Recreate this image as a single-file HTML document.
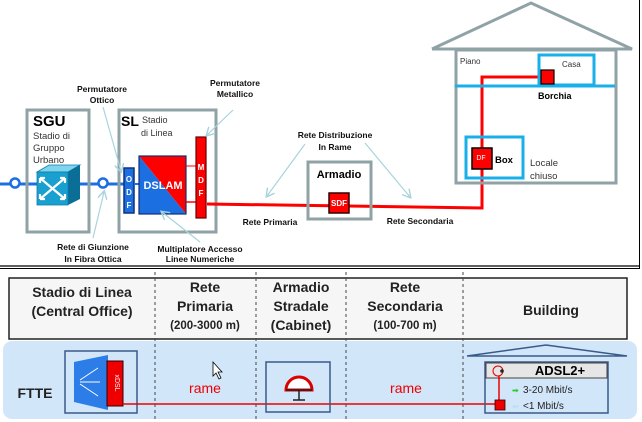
<!DOCTYPE html>
<html><head><meta charset="utf-8"><style>
body{margin:0;background:#fff}
svg{display:block;font-family:"Liberation Sans",Arial,sans-serif}
</style></head><body>
<svg width="642" height="422" viewBox="0 0 642 422" xmlns="http://www.w3.org/2000/svg">
<defs>
<marker id="ar" markerWidth="8" markerHeight="8" refX="6" refY="4" orient="auto"><path d="M0,0 L7,4 L0,8" fill="none" stroke="#a8d4dc" stroke-width="1.2"/></marker>
</defs>
<rect width="642" height="422" fill="#fff"/>
<line x1="0" y1="266" x2="640" y2="266" stroke="#000" stroke-width="1.2"/>
<line x1="0" y1="268.5" x2="640" y2="268.5" stroke="#000" stroke-width="1"/>
<line x1="639.5" y1="0" x2="639.5" y2="268" stroke="#000" stroke-width="1"/>

<line x1="0" y1="184" x2="124" y2="184" stroke="#1b6fe0" stroke-width="3"/>
<circle cx="15" cy="183" r="4.5" fill="#fff" stroke="#1b6fe0" stroke-width="2.5"/>
<circle cx="103" cy="183" r="4.5" fill="#fff" stroke="#1b6fe0" stroke-width="2.5"/>

<rect x="27" y="110" width="62" height="122" fill="none" stroke="#8fa3a6" stroke-width="3"/>
<text x="33" y="126" font-size="15" font-weight="bold">SGU</text>
<text x="33" y="139" font-size="9.5" fill="#333">Stadio di</text>
<text x="33" y="151" font-size="9.5" fill="#333">Gruppo</text>
<text x="33" y="163" font-size="9.5" fill="#333">Urbano</text>
<polygon points="37,172 49,165 80,165 68,172" fill="#7fd4ee" stroke="#0a7fa8" stroke-width="0.8"/>
<polygon points="68,172 80,165 80,199 68,205" fill="#0a6e96"/>
<rect x="37" y="172" width="31" height="33" fill="#1aa0d0" stroke="#0a7fa8" stroke-width="0.8"/>
<path d="M40,178 L65,199 M65,178 L40,199 M40,178 h5 M40,178 v5 M65,178 h-5 M65,178 v5 M40,199 h5 M40,199 v-5 M65,199 h-5 M65,199 v-5" stroke="#fff" stroke-width="2.2" fill="none"/>

<rect x="119" y="110" width="97" height="122" fill="none" stroke="#8fa3a6" stroke-width="3"/>
<text x="121" y="126" font-size="14" font-weight="bold">SL</text>
<text x="142" y="123" font-size="9" fill="#333">Stadio</text>
<text x="141" y="136" font-size="9" fill="#333">di Linea</text>
<rect x="124" y="168" width="10" height="45" fill="#1b6fe0" stroke="#10307a" stroke-width="1.5"/>
<text x="129" y="182" font-size="8" font-weight="bold" fill="#fff" text-anchor="middle">O</text>
<text x="129" y="195" font-size="8" font-weight="bold" fill="#fff" text-anchor="middle">D</text>
<text x="129" y="208" font-size="8" font-weight="bold" fill="#fff" text-anchor="middle">F</text>
<line x1="134" y1="184" x2="139" y2="184" stroke="#1b6fe0" stroke-width="2"/>
<polygon points="139,156 186,156 186,214" fill="#f00"/>
<polygon points="139,156 186,214 139,214" fill="#1b6fe0"/>
<rect x="139" y="156" width="47" height="58" fill="none" stroke="#10307a" stroke-width="1.2"/>
<text x="163" y="189" font-size="11" font-weight="bold" fill="#fff" text-anchor="middle">DSLAM</text>
<line x1="186" y1="166" x2="196" y2="166" stroke="#f00" stroke-width="1"/>
<line x1="186" y1="202" x2="196" y2="202" stroke="#f00" stroke-width="1.5"/>
<rect x="196" y="137" width="10" height="81" fill="#f00" stroke="#600" stroke-width="1.2"/>
<text x="201" y="170" font-size="8" font-weight="bold" fill="#fff" text-anchor="middle">M</text>
<text x="201" y="183" font-size="8" font-weight="bold" fill="#fff" text-anchor="middle">D</text>
<text x="201" y="196" font-size="8" font-weight="bold" fill="#fff" text-anchor="middle">F</text>

<path d="M207,204 L482,208 L482,77 L540,77" fill="none" stroke="#f00" stroke-width="3"/>

<rect x="308" y="162" width="63" height="57" fill="none" stroke="#8fa3a6" stroke-width="3"/>
<text x="339" y="178" font-size="11" font-weight="bold" text-anchor="middle">Armadio</text>
<rect x="329" y="193" width="20" height="20" fill="#f00" stroke="#300" stroke-width="1.5"/>
<text x="339" y="206" font-size="8" font-weight="bold" fill="#fff" text-anchor="middle">SDF</text>

<polyline points="432,49 531,3 632,49 432,49" fill="none" stroke="#8fa3a6" stroke-width="3"/>
<rect x="456" y="50" width="160" height="133" fill="none" stroke="#8fa3a6" stroke-width="3"/>
<line x1="455" y1="86" x2="615" y2="86" stroke="#19b0ea" stroke-width="3"/>
<rect x="539" y="55" width="55" height="30" fill="none" stroke="#19b0ea" stroke-width="3"/>
<text x="460" y="64" font-size="8" fill="#333">Piano</text>
<text x="562" y="67" font-size="8" fill="#333">Casa</text>
<rect x="541" y="70" width="13" height="14" fill="#f00" stroke="#000" stroke-width="1.2"/>
<text x="538" y="99" font-size="9" font-weight="bold">Borchia</text>
<rect x="466" y="137" width="57" height="41" fill="none" stroke="#19b0ea" stroke-width="3"/>
<rect x="472" y="148" width="20" height="21" fill="#f00" stroke="#000" stroke-width="1.5"/>
<text x="481" y="160" font-size="7" fill="#fff" text-anchor="middle">DF</text>
<text x="495" y="163" font-size="9.5" font-weight="bold">Box</text>
<text x="530" y="166" font-size="9.5" fill="#333">Locale</text>
<text x="530" y="179" font-size="9.5" fill="#333">chiuso</text>

<g font-size="8.5" font-weight="bold" fill="#111" text-anchor="middle">
<text x="102" y="92">Permutatore</text><text x="102" y="103">Ottico</text>
<text x="235" y="86">Permutatore</text><text x="235" y="97">Metallico</text>
<text x="335" y="138">Rete Distribuzione</text><text x="335" y="150">In Rame</text>
<text x="93" y="250">Rete di Giunzione</text><text x="93" y="262">In Fibra Ottica</text>
<text x="200" y="252">Multiplatore Accesso</text><text x="200" y="262">Linee Numeriche</text>
<text x="270" y="225">Rete Primaria</text>
<text x="420" y="224">Rete Secondaria</text>
</g>
<g stroke="#a8d4dc" stroke-width="1.2" fill="none" marker-end="url(#ar)">
<line x1="103" y1="107" x2="121" y2="171"/>
<line x1="233" y1="110" x2="207" y2="135"/>
<line x1="305" y1="144" x2="267" y2="196"/>
<line x1="365" y1="143" x2="410" y2="197"/>
<line x1="93" y1="238" x2="104" y2="192"/>
<line x1="200" y1="242" x2="162" y2="212"/>
</g>

<rect x="9" y="278" width="618" height="61" fill="#f6f6f6" stroke="#222" stroke-width="1.5"/>
<rect x="3" y="341" width="634" height="78" rx="9" fill="#d2e6fa"/>
<g stroke="#444" stroke-width="1" stroke-dasharray="3,3">
<line x1="155" y1="272" x2="155" y2="420"/>
<line x1="256" y1="272" x2="256" y2="420"/>
<line x1="346" y1="272" x2="346" y2="420"/>
<line x1="463" y1="272" x2="463" y2="420"/>
</g>
<g font-size="14" font-weight="bold" fill="#222" text-anchor="middle">
<text x="82" y="297">Stadio di Linea</text><text x="82" y="316">(Central Office)</text>
<text x="205" y="292">Rete</text><text x="205" y="311">Primaria</text>
<text x="205" y="329" font-size="11.5">(200-3000 m)</text>
<text x="301" y="292">Armadio</text><text x="301" y="311">Stradale</text>
<text x="301" y="330">(Cabinet)</text>
<text x="405" y="292">Rete</text><text x="405" y="311">Secondaria</text>
<text x="405" y="329" font-size="11.5">(100-700 m)</text>
<text x="551" y="315">Building</text>
<text x="35" y="398" text-anchor="middle">FTTE</text>
</g>
<rect x="65" y="351" width="72" height="62" fill="none" stroke="#3a5a8a" stroke-width="1.5"/>
<path d="M74,362 L108,355 L108,410 L74,402 Z" fill="#2d7de8"/>
<g stroke="#fff" stroke-width="1" fill="none"><path d="M80,380 L98,368 M80,382 L100,382 M80,384 L98,396"/></g>
<rect x="107" y="361" width="16" height="45" fill="#e00" stroke="#300" stroke-width="1"/>
<text x="115" y="383" font-size="7" fill="#fff" text-anchor="middle" transform="rotate(90 115 383)">xDSL</text>
<line x1="123" y1="404" x2="496" y2="404" stroke="#e00" stroke-width="1.5"/>
<text x="205" y="393" font-size="14" fill="#e00" text-anchor="middle">rame</text>
<text x="406" y="393" font-size="14" fill="#e00" text-anchor="middle">rame</text>
<path d="M213,362 L213,376 L216,373 L219,379 L221,378 L218,372 L222,372 Z" fill="#fff" stroke="#000" stroke-width="0.8"/>
<rect x="266" y="362" width="64" height="50" fill="none" stroke="#3a5a8a" stroke-width="1.5"/>
<path d="M286,390 A13,13 0 0 1 312,390 Z" fill="#fff" stroke="#d00" stroke-width="3"/>
<line x1="286" y1="390" x2="312" y2="390" stroke="#222" stroke-width="1.5"/>
<line x1="299" y1="390" x2="299" y2="400" stroke="#222" stroke-width="1.5"/>
<line x1="293" y1="400" x2="305" y2="400" stroke="#222" stroke-width="1.5"/>
<polyline points="467,356 546,345 627,356 467,356" fill="none" stroke="#3a5a8a" stroke-width="1.5"/>
<rect x="485" y="362" width="123" height="51" fill="none" stroke="#3a5a8a" stroke-width="1.5"/>
<rect x="486" y="363" width="121" height="15" fill="#e6e6e6" stroke="#444" stroke-width="1"/>
<text x="560" y="375" font-size="13" font-weight="bold" text-anchor="middle">ADSL2+</text>
<circle cx="498" cy="371" r="5" fill="none" stroke="#d00" stroke-width="1"/>
<circle cx="502" cy="371" r="1.8" fill="#222"/>
<line x1="499" y1="376" x2="499" y2="401" stroke="#e00" stroke-width="1.5"/>
<rect x="495" y="400" width="10" height="10" fill="#e00" stroke="#300" stroke-width="0.8"/>
<text x="512" y="393" font-size="8" fill="#2c2">➡</text>
<text x="523" y="393" font-size="10" fill="#222">3-20 Mbit/s</text>
<text x="512" y="409" font-size="8" fill="#bde">⬅</text>
<text x="523" y="409" font-size="10" fill="#222">&lt;1 Mbit/s</text>
</svg>
</body></html>
